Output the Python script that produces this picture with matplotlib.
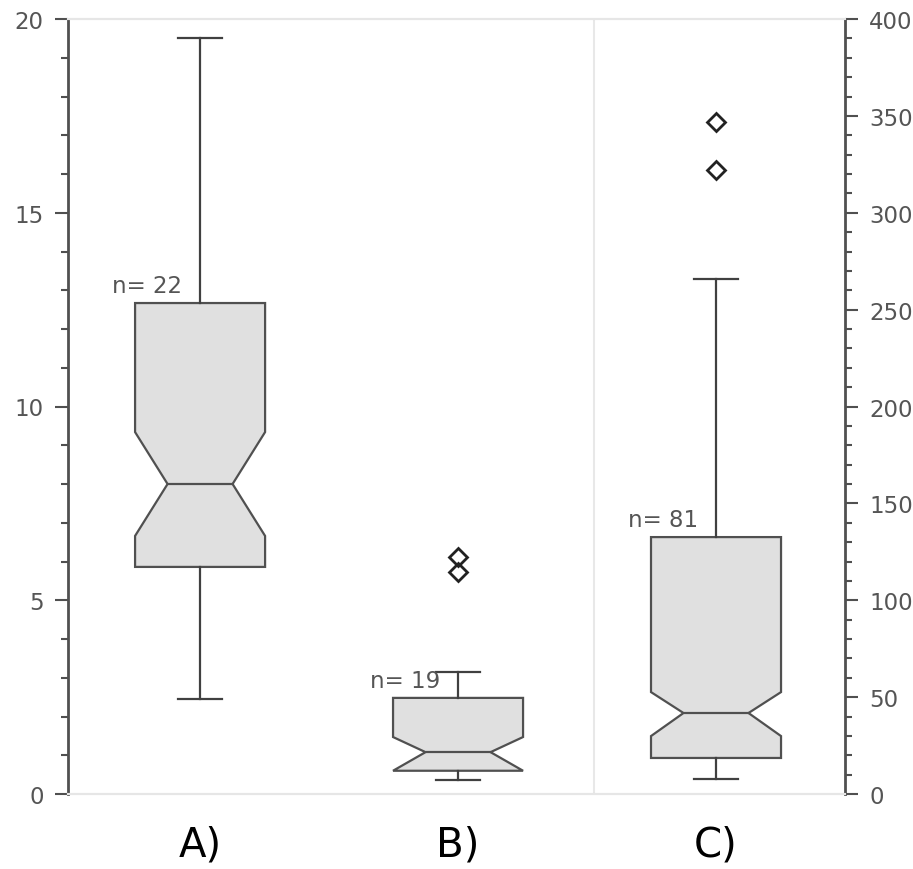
import matplotlib
matplotlib.use('Agg')
import matplotlib.pyplot as plt
from matplotlib.ticker import MultipleLocator

# box statistics
labels = ['A)', 'B)', 'C)']
counts = [22, 19, 81]
whislo = [2.45, 0.36, 7.7]
q1 = [5.86, 0.60, 18.6]
cilo = [6.66, 0.60, 29.9]
med = [8.0, 1.08, 41.8]
cihi = [9.34, 1.47, 52.6]
q3 = [12.67, 2.48, 132.6]
whishi = [19.5, 3.14, 265.8]
fliers = [[], [6.12, 5.73], [346.8, 322.0]]

plt.rcParams['font.family'] = ['DejaVu Sans']

fig = plt.figure(figsize=(9.13, 8.70), dpi=100)
ax = fig.add_axes([68 / 913, 1 - 795 / 870, 777 / 913, 775 / 870])
ax2 = ax.twinx()

edge = '#505050'
face = '#e0e0e0'
box_kw = dict(
    shownotches=True, widths=0.504, capwidths=0.17, patch_artist=True,
    boxprops=dict(facecolor=face, edgecolor=edge, linewidth=1.6),
    medianprops=dict(color=edge, linewidth=1.6),
    whiskerprops=dict(color='#404040', linewidth=1.6),
    capprops=dict(color='#404040', linewidth=1.6),
    flierprops=dict(marker='D', markersize=9, markerfacecolor='none',
                    markeredgecolor='#222222', markeredgewidth=2),
)

stats = []
for i in range(3):
    stats.append(dict(label=labels[i], whislo=whislo[i], q1=q1[i], med=med[i],
                      q3=q3[i], whishi=whishi[i], cilo=cilo[i], cihi=cihi[i],
                      fliers=fliers[i]))

ax.bxp(stats[:2], positions=[1, 2], **box_kw)
ax2.bxp(stats[2:], positions=[3], **box_kw)

# n= labels above the boxes, left of the whisker
for i, a in enumerate([ax, ax, ax2]):
    a.annotate('n= %d' % counts[i], xy=(i + 1, q3[i]), xytext=(-13, 8),
               textcoords='offset points', ha='right', va='baseline',
               fontsize=16.5, color='#555555')

ax.set_xlim(0.488, 3.5)
ax.set_ylim(0, 20)
ax2.set_ylim(0, 400)
ax.axvline(2.527, color='#e8e8e8', linewidth=1.5, zorder=0)

ax.set_xticks([1, 2, 3])
ax.set_xticklabels(labels, fontsize=29, color='black')
ax.tick_params(axis='x', length=0, pad=22)
ax2.tick_params(axis='x', length=0)

ax.yaxis.set_major_locator(MultipleLocator(5))
ax.yaxis.set_minor_locator(MultipleLocator(1))
ax2.yaxis.set_major_locator(MultipleLocator(50))
ax2.yaxis.set_minor_locator(MultipleLocator(10))
for a in (ax, ax2):
    a.tick_params(axis='y', which='major', length=9.5, width=1.5, color=edge,
                  labelsize=16.5, labelcolor='#555555', pad=8)
    a.tick_params(axis='y', which='minor', length=5, width=1.5, color=edge)

for a in (ax, ax2):
    for s in ('top', 'bottom'):
        a.spines[s].set_color('#e6e6e6')
        a.spines[s].set_linewidth(1.5)
ax.spines['left'].set_color(edge)
ax.spines['left'].set_linewidth(2)
ax.spines['right'].set_visible(False)
ax2.spines['left'].set_visible(False)
ax2.spines['right'].set_color(edge)
ax2.spines['right'].set_linewidth(2)

fig.savefig('out.png', dpi=100)
